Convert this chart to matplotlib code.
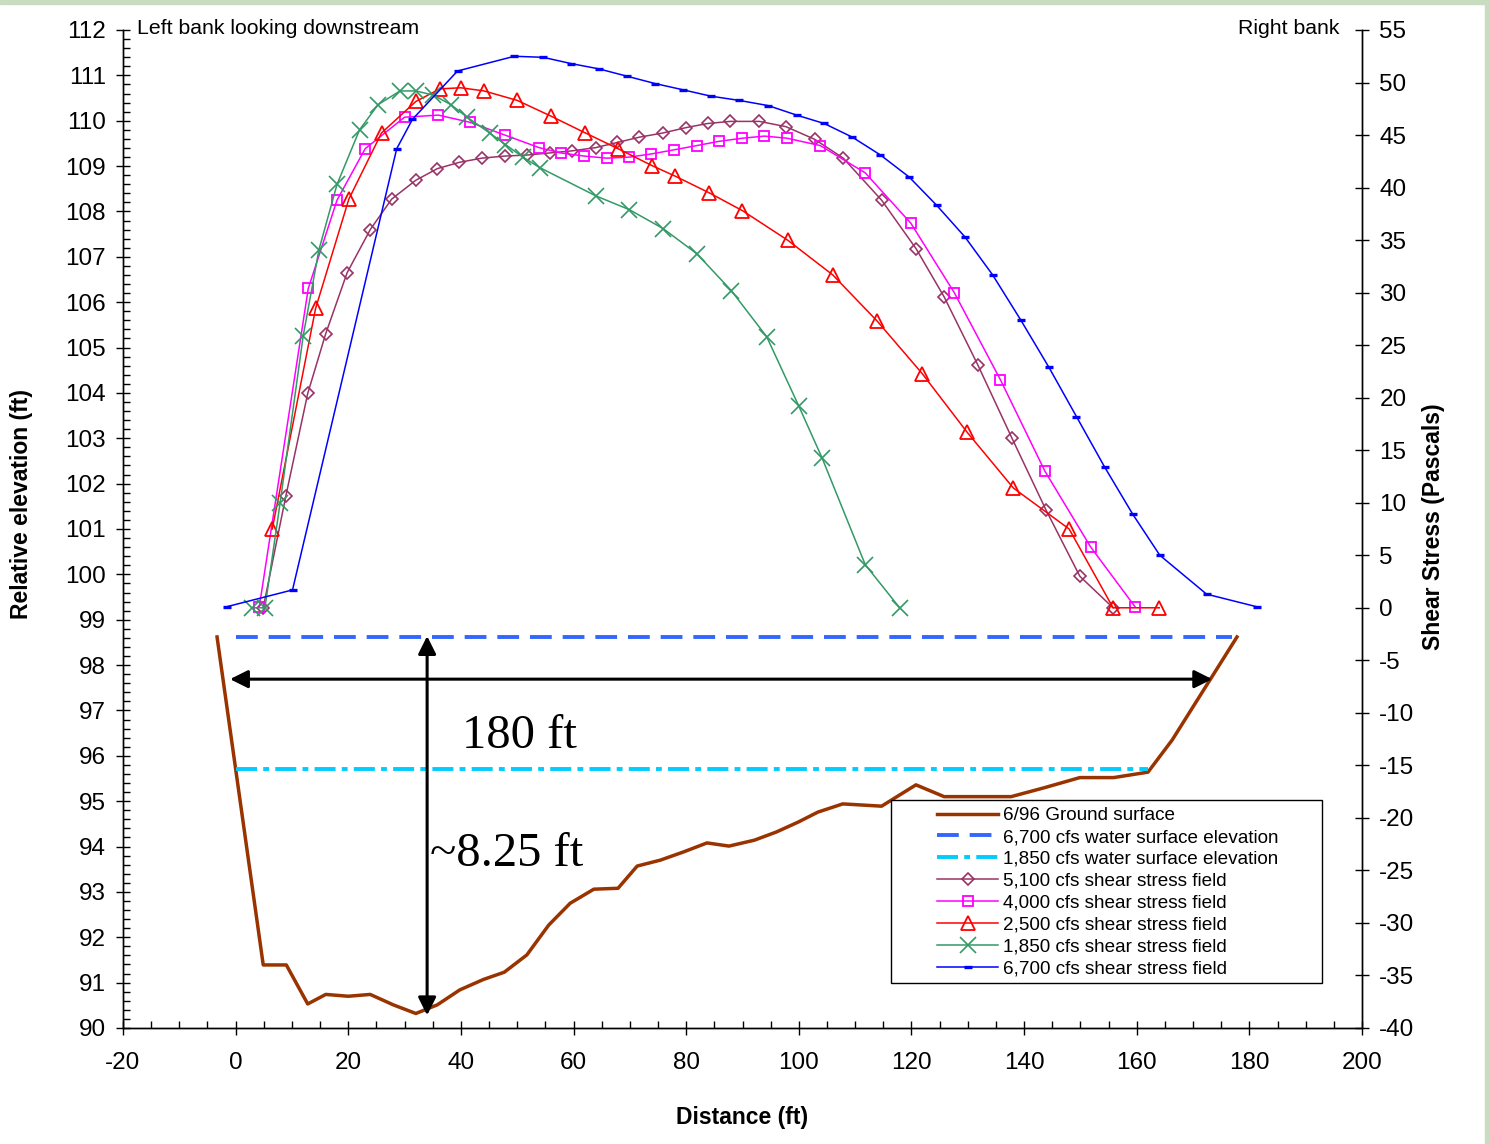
import matplotlib.pyplot as plt
from matplotlib.patches import Rectangle
from matplotlib.ticker import MultipleLocator

plt.rcParams['font.family'] = ['Liberation Sans', 'DejaVu Sans']
plt.rcParams['axes.unicode_minus'] = False

# 6/96 ground survey (left axis, ft)
ground_x = [-3.3, 4.9, 9.0, 12.8, 16.0, 20.0, 23.9, 28.0, 32.0, 35.8, 39.8, 44.0, 47.7,
            51.7, 55.6, 59.4, 63.6, 67.9, 71.3, 75.4, 79.5, 83.7, 87.6, 92.1, 96.0, 99.9,
            103.4, 107.8, 114.7, 120.8, 125.8, 137.7, 143.4, 149.9, 155.9, 162.0, 166.3, 177.8]
ground_y = [98.62, 91.39, 91.39, 90.53, 90.74, 90.70, 90.74, 90.51, 90.32, 90.51, 90.84,
            91.07, 91.23, 91.61, 92.27, 92.75, 93.06, 93.08, 93.57, 93.70, 93.88, 94.08,
            94.01, 94.14, 94.32, 94.54, 94.76, 94.94, 94.89, 95.36, 95.10, 95.10, 95.29,
            95.52, 95.52, 95.64, 96.35, 98.62]

# water surfaces (left axis)
ws6700_x = [0, 177]
ws6700_y = [98.62, 98.62]
ws1850_x = [0, 162]
ws1850_y = [95.71, 95.71]

# shear stress fields (right axis, Pascals)
s5100_x = [4.9, 8.9, 12.8, 16.0, 19.8, 23.9, 27.7, 32.0, 35.8, 39.7, 43.7, 47.8, 51.8, 55.8,
           59.8, 63.9, 67.8, 71.7, 75.9, 79.9, 83.8, 87.8, 93.0, 97.7, 102.8, 107.9, 114.7,
           120.8, 125.8, 131.8, 137.8, 143.9, 149.9, 155.8]
s5100_y = [0.0, 10.6, 20.4, 26.1, 31.9, 36.0, 38.9, 40.7, 41.8, 42.4, 42.8, 43.0, 43.1, 43.3,
           43.5, 43.8, 44.3, 44.8, 45.2, 45.7, 46.1, 46.3, 46.3, 45.8, 44.6, 42.8, 38.8,
           34.2, 29.6, 23.1, 16.2, 9.3, 3.0, 0.0]

s4000_x = [4.2, 12.9, 18.0, 23.0, 30.0, 36.0, 41.7, 47.8, 53.9, 57.7, 61.9, 65.9, 69.9, 73.8,
           77.9, 81.9, 85.8, 90.0, 93.9, 97.9, 103.8, 111.8, 119.9, 127.6, 135.8, 143.7,
           151.8, 159.7]
s4000_y = [0.1, 30.4, 38.8, 43.7, 46.7, 46.9, 46.2, 45.0, 43.8, 43.3, 43.0, 42.8, 42.9, 43.2,
           43.6, 44.0, 44.4, 44.7, 44.9, 44.7, 44.0, 41.4, 36.6, 30.0, 21.7, 13.0, 5.8, 0.1]

s2500_x = [6.5, 14.2, 20.1, 25.9, 32.0, 36.3, 40.0, 44.1, 50.0, 56.0, 62.1, 67.9, 73.9, 78.0,
           84.1, 90.0, 98.0, 106.0, 113.9, 121.9, 129.9, 138.1, 148.0, 155.8, 164.0]
s2500_y = [7.5, 28.5, 38.9, 45.2, 48.2, 49.4, 49.5, 49.2, 48.3, 46.8, 45.2, 43.7, 42.1, 41.1,
           39.5, 37.8, 35.0, 31.7, 27.3, 22.3, 16.7, 11.4, 7.5, 0.0, 0.0]

s1850_x = [2.9, 5.2, 7.9, 12.0, 14.8, 18.0, 22.0, 25.3, 29.2, 32.0, 35.1, 38.2, 41.1, 45.1,
           47.9, 51.0, 54.0, 64.0, 69.9, 75.9, 81.9, 88.0, 94.3, 100.0, 104.1, 111.8, 117.9]
s1850_y = [0.0, 0.0, 10.0, 25.9, 34.1, 40.3, 45.5, 47.9, 49.2, 49.2, 48.8, 47.9, 46.7, 45.2,
           44.1, 42.9, 41.9, 39.2, 37.9, 36.1, 33.7, 30.2, 25.8, 19.2, 14.3, 4.1, 0.0]

s6700_x = [-1.6, 10.1, 28.6, 31.4, 39.4, 49.5, 54.6, 59.6, 64.5, 69.5, 74.5, 79.5, 84.4, 89.4,
           94.6, 99.6, 104.5, 109.5, 114.5, 119.6, 124.5, 129.5, 134.4, 139.4, 144.4, 149.3,
           154.3, 159.3, 164.1, 172.4, 181.3]
s6700_y = [0.1, 1.7, 43.7, 46.5, 51.1, 52.5, 52.4, 51.8, 51.3, 50.6, 49.9, 49.3, 48.7, 48.3,
           47.8, 46.9, 46.1, 44.8, 43.1, 41.0, 38.3, 35.3, 31.7, 27.4, 22.9, 18.2, 13.4,
           8.9, 5.0, 1.3, 0.1]

W, H = 1490, 1144
fig = plt.figure(figsize=(W / 100, H / 100), dpi=100)
ax = fig.add_axes([123 / W, 1 - 1028 / H, (1362 - 123) / W, (1028 - 30) / H])
ax2 = ax.twinx()

# light green page border strips
fig.patches.append(Rectangle((0, 1 - 4 / H), 1, 4 / H, transform=fig.transFigure,
                             color='#c8dcc0', zorder=0))
fig.patches.append(Rectangle((1 - 5 / W, 0), 5 / W, 1, transform=fig.transFigure,
                             color='#c8dcc0', zorder=0))

g, = ax.plot(ground_x, ground_y, color='#993300', lw=2.5, label='6/96 Ground surface')
w1, = ax.plot(ws6700_x, ws6700_y, color='#3366ff', lw=2.8, dashes=(5.6, 2.8),
              label='6,700 cfs water surface elevation')
w2, = ax.plot(ws1850_x, ws1850_y, color='#00ccff', lw=2.8, dashes=(5.4, 1.6, 1.5, 1.6),
              label='1,850 cfs water surface elevation')

l1, = ax2.plot(s5100_x, s5100_y, color='#993366', lw=1.1, marker='D', ms=5.8,
               mfc='none', mew=1.2, label='5,100 cfs shear stress field')
l2, = ax2.plot(s4000_x, s4000_y, color='#ff00ff', lw=1.1, marker='s', ms=7.8,
               mfc='none', mew=1.3, label='4,000 cfs shear stress field')
l3, = ax2.plot(s2500_x, s2500_y, color='#ff0000', lw=1.1, marker='^', ms=9.5,
               mfc='none', mew=1.3, label='2,500 cfs shear stress field')
l4, = ax2.plot(s1850_x, s1850_y, color='#339966', lw=1.1, marker='x', ms=12,
               mew=1.2, label='1,850 cfs shear stress field')
l5, = ax2.plot(s6700_x, s6700_y, color='#0000ff', lw=1.1, marker='_', ms=5.5,
               mew=2.4, label='6,700 cfs shear stress field')

# axes ranges and ticks
ax.set_xlim(-20, 200)
ax.set_ylim(90, 112)
ax2.set_ylim(-40, 55)
ax.set_xticks(range(-20, 201, 20))
ax.set_yticks(range(90, 113))
ax2.set_yticks(range(-40, 56, 5))
ax.xaxis.set_minor_locator(MultipleLocator(5))
ax.yaxis.set_minor_locator(MultipleLocator(0.2))

for a in (ax, ax2):
    a.spines['top'].set_visible(False)
    for s in a.spines.values():
        s.set_linewidth(1.0)
ax.tick_params(which='major', direction='inout', length=10, width=1, labelsize=17.5, pad=7.5)
ax.tick_params(axis='x', which='major', pad=12)
ax.tick_params(which='minor', direction='in', length=5, width=1)
ax2.tick_params(which='major', direction='inout', length=10, width=1, labelsize=17.5, pad=7.5)

ax.set_xlabel('Distance (ft)', fontsize=16.5, fontweight='bold')
ax.set_ylabel('Relative elevation (ft)', fontsize=16.5, fontweight='bold')
ax2.set_ylabel('Shear Stress (Pascals)', fontsize=16.5, fontweight='bold')
ax.xaxis.set_label_coords(0.5, -(1106 - 1028) / 998)
ax.yaxis.set_label_coords(-(123 - 33) / 1239, 1 - (504 - 30) / 998)
ax2.yaxis.set_label_coords((1422 - 123) / 1239, 1 - (527 - 30) / 998)

fig.text(137 / W, 1 - 28 / H, 'Left bank looking downstream', fontsize=15.3, va='center')
fig.text(1340 / W, 1 - 28 / H, 'Right bank', fontsize=15.3, va='center', ha='right')

# dimension arrows and annotations
arrow = dict(arrowstyle='<|-|>', lw=2.2, color='black', mutation_scale=27,
             shrinkA=0, shrinkB=0)
ax.annotate('', xy=(173.4, 97.69), xytext=(-1.0, 97.69), arrowprops=arrow)
ax.annotate('', xy=(34.0, 90.28), xytext=(34.0, 98.64), arrowprops=arrow)
ax.text(40.2, 96.17, '180 ft', family=['Liberation Serif', 'DejaVu Serif'], fontsize=35,
        va='baseline')
ax.text(34.5, 93.57, '~8.25 ft', family=['Liberation Serif', 'DejaVu Serif'], fontsize=35,
        va='baseline')

# legend box
ax2.add_patch(Rectangle((891 / W, 1 - 983 / H), 431 / W, 183 / H, transform=fig.transFigure,
                        facecolor='white', edgecolor='black', lw=1, zorder=4))
handles = [g, w1, w2, l1, l2, l3, l4, l5]
leg = ax2.legend(handles, [h.get_label() for h in handles],
                 loc='upper left', bbox_to_anchor=(937 / W, 1 - 807 / H),
                 bbox_transform=fig.transFigure, frameon=False, fontsize=13.6,
                 handlelength=3.25, handletextpad=0.25, labelspacing=0.245,
                 borderpad=0, borderaxespad=0, numpoints=1)
leg.set_zorder(5)

fig.savefig('out.png', dpi=100)
